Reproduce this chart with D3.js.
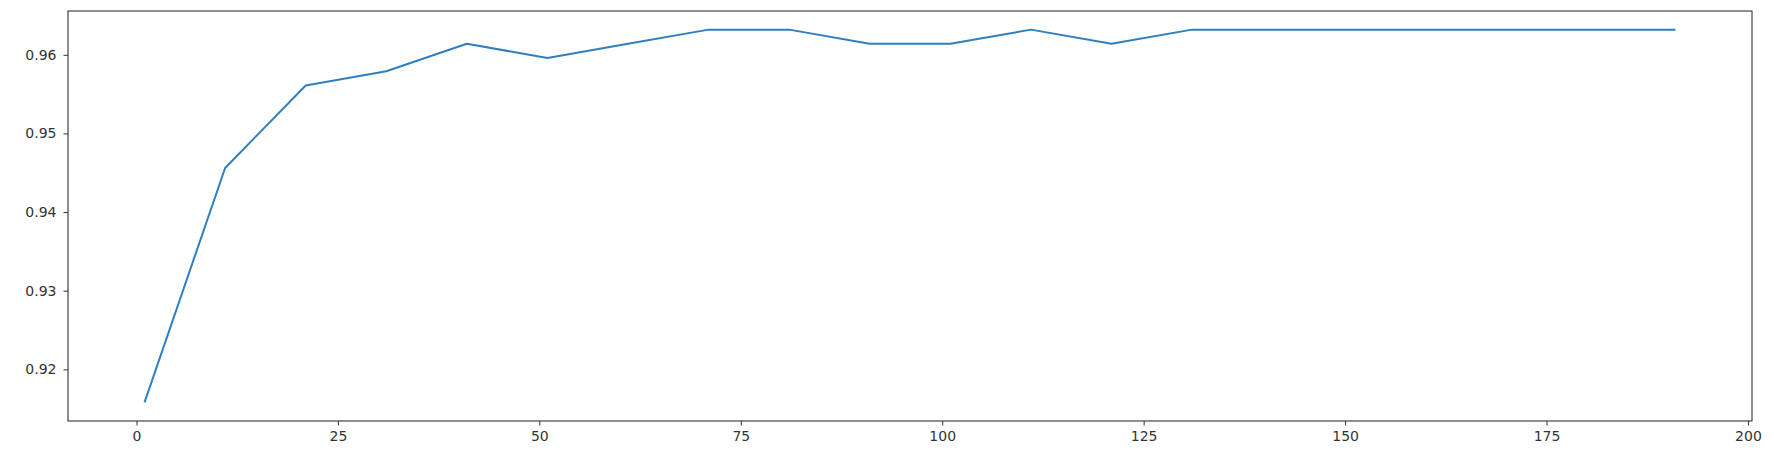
<!DOCTYPE html>
<html lang="en">
<head>
    <meta charset="UTF-8">
    <title>Score vs n</title>
    <style>
        body { margin: 0; background: #fff; }
        svg { display: block; }
        .tick text { font-family: "DejaVu Sans", sans-serif; font-size: 14px; fill: #333; }
    </style>
</head>
<body>
<svg width="1774" height="463"></svg>
<script src="https://d3js.org/d3.v7.min.js"></script>
<script>
    // data
    var xValues = [1, 11, 21, 31, 41, 51, 61, 71, 81, 91, 101, 111, 121, 131, 141, 151, 161, 171, 181, 191];
    var scores = [0.9158, 0.9456, 0.9561, 0.9579, 0.9614, 0.9596, 0.9614, 0.9632, 0.9632, 0.9614,
                  0.9614, 0.9632, 0.9614, 0.9632, 0.9632, 0.9632, 0.9632, 0.9632, 0.9632, 0.9632];
    var xTicks = [0, 25, 50, 75, 100, 125, 150, 175, 200];
    var yTicks = [0.92, 0.93, 0.94, 0.95, 0.96];

    var svg = d3.select("svg");
    // plot area (window.top is reserved, so use a box object)
    var box = { left: 68, top: 11, right: 1752, bottom: 421 };

    // matplotlib style 5% margins
    var xExt = d3.extent(xValues), yExt = d3.extent(scores);
    var xPad = (xExt[1] - xExt[0]) * 0.05, yPad = (yExt[1] - yExt[0]) * 0.05;

    var x = d3.scaleLinear().domain([xExt[0] - xPad, xExt[1] + xPad]).range([box.left, box.right]);
    var y = d3.scaleLinear().domain([yExt[0] - yPad, yExt[1] + yPad]).range([box.bottom, box.top]);

    // line
    var line = d3.line()
        .x(function (d, i) { return x(xValues[i]); })
        .y(function (d) { return y(d); });

    svg.append("path")
        .datum(scores)
        .attr("fill", "none")
        .attr("stroke", "#2f7fc0")
        .attr("stroke-width", 2)
        .attr("stroke-linejoin", "round")
        .attr("d", line);

    // axes
    var xAxis = svg.append("g")
        .attr("transform", "translate(0," + box.bottom + ")")
        .call(d3.axisBottom(x).tickValues(xTicks).tickFormat(d3.format("d")).tickSize(4.5).tickPadding(6));

    var yAxis = svg.append("g")
        .attr("transform", "translate(" + box.left + ",0)")
        .call(d3.axisLeft(y).tickValues(yTicks).tickFormat(d3.format(".2f")).tickSize(4.5).tickPadding(7));

    [xAxis, yAxis].forEach(function (g) {
        g.select(".domain").remove();
        g.selectAll(".tick line").attr("stroke", "#333").attr("stroke-width", 1);
    });

    // frame
    svg.append("rect")
        .attr("x", box.left)
        .attr("y", box.top)
        .attr("width", box.right - box.left)
        .attr("height", box.bottom - box.top)
        .attr("fill", "none")
        .attr("stroke", "#333")
        .attr("stroke-width", 1.1);
</script>
</body>
</html>
